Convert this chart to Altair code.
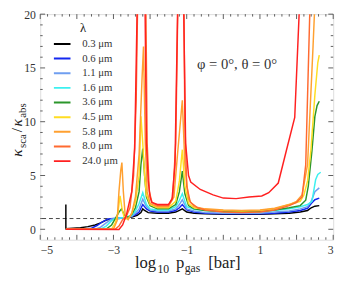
import altair as alt
import pandas as pd

# ---- data ----
labels = ["0.3 μm", "0.6 μm", "1.1 μm", "1.6 μm", "3.6 μm", "4.5 μm", "5.8 μm", "8.0 μm", "24.0 μm"]
colors = ["#000000", "#1428f0", "#6f9ef0", "#3cf0f0", "#2b962b", "#ffdd22", "#ffa030", "#ff6a30", "#ff2020"]

x_03 = [-4.3, -4.3, -4.1, -3.9, -3.7, -3.5, -3.35, -3.2, -3.05, -2.9, -2.7, -2.5, -2.35, -2.25, -2.2, -2.15, -2.05, -1.8, -1.5, -1.3, -1.2, -1.12, -1.0, -0.8, -0.5, 0.0, 0.5, 1.0, 1.4, 1.8, 2.1, 2.3, 2.4, 2.5, 2.62]
y_03 = [2.3, 0.05, 0.1, 0.15, 0.25, 0.4, 0.6, 0.85, 0.95, 1.0, 1.05, 1.15, 1.3, 1.55, 1.9, 1.75, 1.55, 1.5, 1.5, 1.6, 1.75, 1.9, 1.6, 1.5, 1.45, 1.4, 1.4, 1.4, 1.45, 1.5, 1.6, 1.75, 2.0, 2.15, 2.2]

x_06 = [-4.3, -3.8, -3.6, -3.45, -3.3, -3.15, -3.0, -2.8, -2.6, -2.4, -2.3, -2.2, -2.1, -2.0, -1.8, -1.5, -1.3, -1.2, -1.12, -1.0, -0.8, -0.5, 0.0, 0.5, 1.0, 1.4, 1.8, 2.1, 2.3, 2.4, 2.5, 2.62]
y_06 = [0.0, 0.02, 0.1, 0.35, 0.7, 0.95, 1.0, 1.05, 1.1, 1.35, 1.6, 2.3, 1.9, 1.7, 1.6, 1.6, 1.75, 2.0, 2.3, 1.8, 1.6, 1.5, 1.45, 1.45, 1.45, 1.5, 1.6, 1.75, 1.95, 2.4, 2.75, 2.9]

x_11 = [-4.3, -3.5, -3.35, -3.2, -3.05, -2.9, -2.7, -2.5, -2.4, -2.3, -2.2, -2.1, -2.0, -1.8, -1.5, -1.3, -1.2, -1.12, -1.0, -0.8, -0.5, 0.0, 0.5, 1.0, 1.4, 1.8, 2.1, 2.3, 2.4, 2.5, 2.62]
y_11 = [0.0, 0.02, 0.2, 0.6, 0.95, 1.0, 1.05, 1.2, 1.5, 1.9, 2.8, 2.1, 1.8, 1.7, 1.7, 1.9, 2.3, 2.75, 1.9, 1.7, 1.55, 1.5, 1.5, 1.5, 1.6, 1.7, 1.9, 2.1, 2.6, 3.5, 3.85]

x_16 = [-4.3, -3.35, -3.2, -3.05, -2.95, -2.85, -2.7, -2.5, -2.4, -2.3, -2.2, -2.1, -2.0, -1.8, -1.5, -1.3, -1.2, -1.12, -1.0, -0.8, -0.5, 0.0, 0.5, 1.0, 1.4, 1.8, 2.1, 2.3, 2.42, 2.52, 2.58, 2.66]
y_16 = [0.0, 0.02, 0.3, 0.8, 1.0, 1.05, 1.1, 1.3, 1.7, 2.4, 3.4, 2.3, 1.9, 1.8, 1.8, 2.1, 2.7, 3.3, 2.1, 1.85, 1.75, 1.65, 1.65, 1.65, 1.75, 1.9, 2.1, 2.3, 2.6, 4.6, 5.1, 5.3]

x_36 = [-4.3, -3.2, -3.05, -2.95, -2.85, -2.78, -2.7, -2.6, -2.5, -2.4, -2.3, -2.25, -2.2, -2.15, -2.1, -2.0, -1.8, -1.5, -1.3, -1.2, -1.12, -1.05, -0.95, -0.8, -0.5, 0.0, 0.5, 1.0, 1.4, 1.8, 2.1, 2.25, 2.32, 2.42, 2.5, 2.56, 2.62]
y_36 = [0.0, 0.02, 0.4, 1.0, 1.6, 1.9, 1.3, 1.1, 1.4, 2.0, 3.5, 6.0, 7.5, 5.0, 3.0, 2.2, 1.9, 1.9, 2.3, 3.5, 5.4, 3.3, 2.2, 1.9, 1.75, 1.65, 1.65, 1.65, 1.8, 2.0, 2.2, 2.7, 4.0, 7.3, 10.5, 11.5, 11.9]

x_45 = [-4.3, -3.05, -2.95, -2.88, -2.82, -2.76, -2.7, -2.6, -2.5, -2.4, -2.3, -2.25, -2.2, -2.15, -2.1, -2.0, -1.8, -1.5, -1.3, -1.2, -1.12, -1.05, -0.95, -0.8, -0.5, 0.0, 0.5, 1.0, 1.4, 1.8, 2.1, 2.2, 2.3, 2.39, 2.5, 2.58, 2.62]
y_45 = [0.0, 0.02, 0.6, 1.5, 3.1, 1.8, 1.0, 0.95, 1.5, 2.5, 5.0, 10.5, 8.0, 5.0, 3.2, 2.3, 2.0, 2.0, 2.6, 4.5, 7.4, 4.0, 2.4, 2.0, 1.85, 1.75, 1.7, 1.75, 1.9, 2.3, 2.6, 3.2, 4.5, 7.3, 12.5, 15.5, 16.2]

x_58 = [-4.3, -3.0, -2.9, -2.85, -2.8, -2.77, -2.73, -2.68, -2.6, -2.5, -2.4, -2.3, -2.22, -2.18, -2.13, -2.08, -2.0, -1.8, -1.5, -1.35, -1.25, -1.12, -1.05, -0.95, -0.8, -0.5, 0.0, 0.5, 1.0, 1.4, 1.8, 2.0, 2.15, 2.3, 2.45, 2.55]
y_58 = [0.0, 0.02, 0.8, 3.5, 5.5, 6.2, 3.5, 1.3, 0.9, 1.5, 3.0, 7.0, 14.0, 17.0, 8.0, 3.5, 2.4, 2.1, 2.1, 3.0, 7.0, 12.0, 6.0, 2.8, 2.1, 1.9, 1.8, 1.75, 1.8, 1.95, 2.3, 2.6, 3.2, 6.0, 17.0, 25.0]

x_80 = [-4.3, -2.95, -2.85, -2.75, -2.65, -2.55, -2.45, -2.38, -2.3, -2.22, -2.14, -2.08, -2.02, -1.95, -1.8, -1.5, -1.38, -1.3, -1.2, -1.1, -1.05, -1.0, -0.9, -0.7, -0.5, 0.0, 0.5, 1.0, 1.4, 1.8, 2.0, 2.15, 2.25, 2.36, 2.45]
y_80 = [0.0, 0.02, 0.3, 0.9, 1.2, 2.0, 5.0, 12.0, 30.0, 40.0, 30.0, 8.0, 3.5, 2.5, 2.2, 2.2, 3.0, 8.0, 30.0, 30.0, 10.0, 4.0, 2.5, 2.0, 1.8, 1.6, 1.55, 1.6, 1.8, 2.2, 2.5, 3.0, 6.0, 20.0, 30.0]

x_240 = [-4.3, -2.85, -2.75, -2.65, -2.5, -2.42, -2.33, -2.24, -2.15, -2.1, -2.05, -2.0, -1.95, -1.8, -1.5, -1.4, -1.32, -1.25, -1.15, -1.08, -1.03, -0.95, -0.89, -0.63, -0.28, 0.0, 0.35, 0.7, 1.05, 1.24, 1.5, 1.72, 1.95, 2.07, 2.15]
y_240 = [0.0, -0.02, 0.4, 1.3, 3.5, 7.5, 25.0, 45.0, 25.0, 8.0, 4.5, 3.0, 2.5, 2.3, 2.3, 2.8, 6.0, 20.0, 40.0, 20.0, 8.0, 5.0, 4.4, 3.7, 3.2, 2.9, 2.85, 3.0, 3.1, 3.4, 4.3, 7.3, 10.4, 20.0, 30.0]

series_x = [x_03, x_06, x_11, x_16, x_36, x_45, x_58, x_80, x_240]
series_y = [y_03, y_06, y_11, y_16, y_36, y_45, y_58, y_80, y_240]

x_major = [-5, -4, -3, -2, -1, 0, 1, 2, 3]
y_major = [0, 5, 10, 15, 20]
x_minor = [round(-5 + 0.2 * i, 1) for i in range(41) if i % 5 != 0]
y_minor = [1, 2, 3, 4, 6, 7, 8, 9, 11, 12, 13, 14, 16, 17, 18, 19]
ref_level = [1.0]

# ---- build table ----
rows = []
for lab, xs_, ys_ in zip(labels, series_x, series_y):
    for i, (xv, yv) in enumerate(zip(xs_, ys_)):
        rows.append({"lam": lab, "x": xv, "y": yv, "i": i})
df = pd.DataFrame(rows)

W, H = 300, 231
FONT = "Liberation Serif, serif"
xs = alt.Scale(domain=[-5, 3], nice=False, zero=False)
ys = alt.Scale(domain=[-0.97, 20], nice=False, zero=False)

lines = alt.Chart(df).mark_line(clip=True, strokeWidth=1.5).encode(
    x=alt.X("x:Q", scale=xs, axis=alt.Axis(title=None, values=x_major, ticks=False, grid=False,
                                           domain=False, labelPadding=5)),
    y=alt.Y("y:Q", scale=ys, axis=alt.Axis(title=None, values=y_major, ticks=False, grid=False,
                                           domain=False, labelPadding=5)),
    color=alt.Color("lam:N", scale=alt.Scale(domain=labels, range=colors), sort=labels,
                    legend=alt.Legend(title=None, orient="none", legendX=13, legendY=23,
                                      symbolType="stroke", symbolStrokeWidth=2, symbolSize=289,
                                      labelOffset=11, rowPadding=0, clipHeight=15)),
    order=alt.Order("i:Q"),
)

dash = alt.Chart(pd.DataFrame({"y": ref_level})).mark_rule(
    color="#444", strokeDash=[4, 3], strokeWidth=1).encode(y=alt.Y("y:Q", scale=ys))

def xticks(vals, length):
    d = pd.DataFrame({"v": vals})
    b = alt.Chart(d).mark_rule(color="#333", strokeWidth=0.8).encode(
        x=alt.X("v:Q", scale=xs), y=alt.value(H), y2=alt.value(H - length))
    t = alt.Chart(d).mark_rule(color="#333", strokeWidth=0.8).encode(
        x=alt.X("v:Q", scale=xs), y=alt.value(0), y2=alt.value(length))
    return b + t

def yticks(vals, length):
    d = pd.DataFrame({"v": vals})
    l = alt.Chart(d).mark_rule(color="#333", strokeWidth=0.8).encode(
        y=alt.Y("v:Q", scale=ys), x=alt.value(0), x2=alt.value(length))
    r = alt.Chart(d).mark_rule(color="#333", strokeWidth=0.8).encode(
        y=alt.Y("v:Q", scale=ys), x=alt.value(W), x2=alt.value(W - length))
    return l + r

annot = alt.Chart(pd.DataFrame({"x": [-0.72], "y": [15.4], "t": ["φ = 0°, θ = 0°"]})).mark_text(
    font=FONT, fontSize=15, color="#333", align="left", baseline="middle").encode(
    x=alt.X("x:Q", scale=xs), y=alt.Y("y:Q", scale=ys), text="t:N")

def txt(s, px, py, size, angle=0, italic=False, align="left"):
    m = alt.Chart(pd.DataFrame({"t": [s]})).mark_text(
        font=FONT, fontSize=size, color="#222", align=align, baseline="alphabetic",
        angle=angle, fontStyle="italic" if italic else "normal")
    return m.encode(x=alt.value(px), y=alt.value(py), text="t:N")

# legend heading
lam = txt("λ", 44, 18, 13, align="center")
# x-axis title: log10 p_gas [bar]
xt = (txt("log", 97, 260, 17) + txt("10", 120, 265, 12) + txt("p", 139, 260, 17)
      + txt("gas", 148, 264, 12) + txt("[bar]", 172, 260, 17))
# y-axis title: kappa_sca / kappa_abs (rotated)
yt = (txt("κ", -19, 146, 16, 270, True) + txt("sca", -15, 137, 11, 270)
      + txt("/", -19, 121, 16, 270) + txt("κ", -19, 115, 16, 270, True)
      + txt("abs", -15, 106, 11, 270))

chart = alt.layer(
    dash, xticks(x_minor, 2.5), xticks(x_major, 5), yticks(y_minor, 2.5), yticks(y_major, 5),
    lines, annot, lam, xt, yt
).properties(
    width=W, height=H,
    autosize=alt.AutoSizeParams(type="none"),
    padding={"left": 33, "top": 3, "right": 8, "bottom": 40},
).configure_view(stroke="#333", strokeWidth=1.2).configure(
    background="white", font=FONT
).configure_axis(
    labelFont=FONT, labelFontSize=12, labelColor="#333"
).configure_legend(
    labelFont=FONT, labelFontSize=11, labelColor="#333"
)

chart.save("out.html", embed_options={"renderer": "svg", "actions": False})
